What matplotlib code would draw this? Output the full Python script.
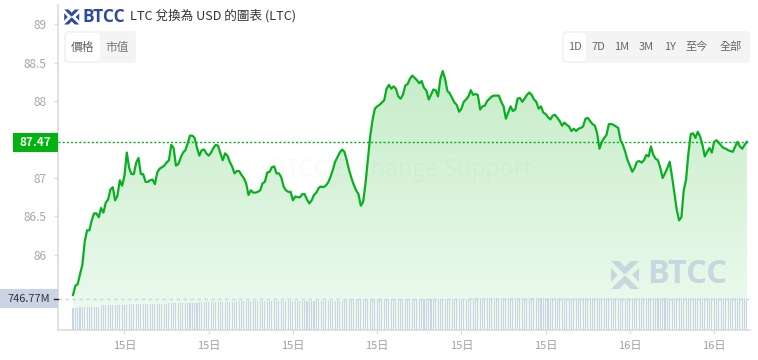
import matplotlib
matplotlib.use('Agg')
import matplotlib.pyplot as plt
import numpy as np
from matplotlib.patches import FancyBboxPatch, Polygon, Rectangle

plt.rcParams['font.family'] = ['Noto Sans CJK TC', 'DejaVu Sans']

W, H = 758, 360

# LTC price, one value every 5 minutes
price = [85.48, 85.60, 85.62, 85.75, 85.87, 86.17, 86.32, 86.32, 86.45, 86.54,
         86.54, 86.49, 86.61, 86.55, 86.68, 86.72, 86.85, 86.88, 86.71, 86.77,
         86.97, 86.90, 87.03, 87.33, 87.13, 87.05, 87.05, 87.20, 87.26, 87.05,
         87.05, 86.95, 86.95, 86.97, 86.98, 86.92, 87.07, 87.12, 87.14, 87.16,
         87.20, 87.23, 87.43, 87.39, 87.16, 87.18, 87.26, 87.33, 87.36, 87.45,
         87.55, 87.55, 87.52, 87.39, 87.29, 87.36, 87.37, 87.32, 87.29, 87.33,
         87.39, 87.43, 87.42, 87.32, 87.23, 87.32, 87.29, 87.21, 87.15, 87.06,
         87.09, 87.09, 87.04, 87.00, 86.93, 86.78, 86.84, 86.81, 86.81, 86.82,
         86.84, 86.93, 86.95, 87.07, 87.08, 87.14, 87.15, 87.06, 87.06, 87.01,
         86.89, 86.84, 86.82, 86.82, 86.71, 86.76, 86.75, 86.75, 86.79, 86.79,
         86.72, 86.67, 86.71, 86.78, 86.81, 86.87, 86.89, 86.88, 86.90, 86.94,
         87.01, 87.10, 87.21, 87.27, 87.33, 87.37, 87.34, 87.23, 87.10, 87.00,
         86.91, 86.84, 86.79, 86.64, 86.69, 86.93, 87.24, 87.54, 87.75, 87.90,
         87.93, 87.95, 87.98, 88.01, 88.16, 88.21, 88.16, 88.19, 88.16, 88.06,
         88.03, 88.08, 88.20, 88.22, 88.29, 88.33, 88.30, 88.27, 88.23, 88.26,
         88.17, 88.14, 88.02, 88.08, 88.15, 88.14, 88.06, 88.29, 88.39, 88.29,
         88.13, 88.10, 88.04, 87.98, 87.95, 87.86, 87.90, 87.99, 88.02, 88.06,
         88.14, 88.08, 88.09, 88.08, 87.89, 87.93, 87.94, 88.00, 88.03, 88.06,
         88.07, 88.07, 88.07, 87.99, 87.93, 87.77, 87.85, 87.93, 87.87, 87.89,
         88.03, 88.04, 87.99, 88.03, 88.08, 88.11, 88.08, 88.02, 87.99, 87.90,
         87.93, 87.85, 87.83, 87.79, 87.76, 87.81, 87.82, 87.78, 87.74, 87.68,
         87.72, 87.69, 87.67, 87.61, 87.64, 87.61, 87.64, 87.65, 87.67, 87.77,
         87.78, 87.74, 87.70, 87.68, 87.58, 87.38, 87.47, 87.52, 87.56, 87.70,
         87.70, 87.69, 87.67, 87.65, 87.49, 87.43, 87.34, 87.23, 87.16, 87.08,
         87.13, 87.21, 87.22, 87.20, 87.23, 87.30, 87.28, 87.41, 87.30, 87.25,
         87.23, 87.13, 87.00, 87.06, 87.13, 87.21, 87.02, 86.81, 86.59, 86.45,
         86.49, 86.84, 86.98, 87.32, 87.57, 87.58, 87.52, 87.60, 87.54, 87.43,
         87.28, 87.34, 87.39, 87.33, 87.47, 87.49, 87.46, 87.42, 87.39, 87.38,
         87.36, 87.35, 87.34, 87.41, 87.47, 87.41, 87.38, 87.43, 87.47]
# rolling volume in millions, same 5 minute steps
volume = ([535] * 3 + [559] * 9 + [584] * 5 + [608] * 7 + [625] * 17 + [652] * 13
          + [676] * 16 + [705] * 46 + [747] * 54 + [771] * 118 + [746.77])

y_ticks = [86, 86.5, 87, 88, 88.5, 89]
y_tick_labels = ['86', '86.5', '87', '88', '88.5', '89']
x_tick_minutes = [110, 290, 470, 650, 830, 1010, 1190, 1370]
x_tick_labels = ['15日', '15日', '15日', '15日', '15日', '15日', '16日', '16日']
last_price = 87.47
last_volume = 746.77
range_labels = ['1D', '7D', '1M', '3M', '1Y', '至今', '全部']

minutes = np.arange(len(price)) * 5
GREEN = '#07b01f'
AXIS = '#dcdcdc'
VOL = '#cbd4e5'

fig = plt.figure(figsize=(W / 100, H / 100), dpi=100)
rect = [57.5 / W, (H - 329.5) / H, (750 - 57.5) / W, (329.5 - 5) / H]
xlim = (-33.1, 1446.6)

# price axes
ax = fig.add_axes(rect, zorder=1)
poly = ax.fill_between(minutes, price, 85.03, color='none')
grad = np.ones((100, 1, 3))
top_col = np.array([198, 236, 200]) / 255
bot_col = np.array([238, 251, 240]) / 255
for c in range(3):
    grad[:, 0, c] = np.linspace(top_col[c], bot_col[c], 100)
im = ax.imshow(grad, extent=(minutes[0], minutes[-1], 85.03, 88.45), aspect='auto',
               interpolation='bilinear', zorder=1)
im.set_clip_path(poly.get_paths()[0], transform=ax.transData)
ax.text(0.497, 0.49, 'BTCC Exchange Support', transform=ax.transAxes, ha='center', va='center',
        fontsize=16.8, color='black', alpha=0.02, family='Open Sans', zorder=2)
ax.plot(minutes, price, color=GREEN, lw=1.6, solid_joinstyle='round', zorder=4)
ax.axhline(last_price, color=GREEN, lw=1, dashes=(1.5, 1.5), zorder=3)
ax.set_xlim(xlim)
ax.set_ylim(85.032, 89.247)
ax.set_yticks(y_ticks, y_tick_labels)
ax.set_xticks(x_tick_minutes, x_tick_labels)
ax.tick_params(axis='y', length=3, width=1, color=AXIS, labelcolor='#a8a8a8', labelsize=8.5, pad=5)
ax.tick_params(axis='x', length=3, width=1, color=AXIS, labelcolor='#a0a0a0', labelsize=8, pad=5)
for s in ['top', 'right']:
    ax.spines[s].set_visible(False)
for s in ['left', 'bottom']:
    ax.spines[s].set_color(AXIS)
    ax.spines[s].set_linewidth(1.2)

# volume axes on top, same box
axv = fig.add_axes(rect, zorder=2)
axv.patch.set_visible(False)
axv.bar(minutes, volume, width=2.2, color=VOL, linewidth=0)
axv.axhline(last_volume, color=VOL, lw=1, dashes=(2.5, 2.5))
axv.set_xlim(xlim)
axv.set_ylim(0, 7892)
axv.axis('off')

# overlay in pixel coordinates for the widgets
axc = fig.add_axes([0, 0, 1, 1], zorder=3)
axc.set_xlim(0, W)
axc.set_ylim(H, 0)
axc.axis('off')


def box(x0, y0, x1, y1, color, r=4):
    axc.add_patch(FancyBboxPatch((x0 + r, y0 + r), x1 - x0 - 2 * r, y1 - y0 - 2 * r,
                                 boxstyle='round,pad=%d,rounding_size=%d' % (r, r),
                                 fc=color, ec='none'))


def logo(cx, cy, s, color):
    shapes = [
        [(-1, -1), (-.42, -1), (0, -.58), (.42, -1), (1, -1), (.06, -.08), (-.06, -.08)],
        [(-1, 1), (-.42, 1), (0, .58), (.42, 1), (1, 1), (.06, .08), (-.06, .08)],
        [(-1, -.5), (-.52, 0), (-1, .5)],
        [(1, -.5), (.52, 0), (1, .5)],
    ]
    for sh in shapes:
        axc.add_patch(Polygon([(cx + a * s, cy + b * s) for a, b in sh], fc=color, ec='none'))


logo(71.7, 17, 7.5, '#2d4a9e')
axc.text(82, 16.5, 'BTCC', family='Open Sans', weight='bold', fontsize=12.5, color='#2d4a9e', va='center')
axc.text(130, 16, 'LTC 兌換為 USD 的圖表 (LTC)', fontsize=9.1, weight='medium', color='#333333', va='center')

logo(625, 275, 14, '#c8d6de')
axc.text(647, 274.5, 'BTCC', family='Open Sans', weight='bold', fontsize=23.5, color='#c8d6de', va='center')

box(64, 31, 136, 63, '#f4f4f4')
box(66, 33, 100, 61, 'white')
axc.text(83, 47, '價格', fontsize=8.5, color='#666666', ha='center', va='center')
axc.text(117, 47, '市值', fontsize=8.5, color='#777777', ha='center', va='center')

box(562, 31, 750, 63, '#f4f4f4')
box(564, 33, 586, 61, 'white')
for lab, xp in zip(range_labels, [575, 598, 622, 646, 670, 697, 731]):
    axc.text(xp, 47, lab, fontsize=8, color='#666666', ha='center', va='center')

axc.add_patch(Rectangle((13, 133), 45, 19, fc='#00b40f', ec='none'))
axc.text(35.5, 142.5, '%.2f' % last_price, fontsize=8.5, weight='bold', color='white', ha='center', va='center')
axc.add_patch(Rectangle((0, 289), 58, 19, fc=VOL, ec='none'))
axc.text(28.5, 298.5, '%.2fM' % last_volume, fontsize=7.9, color='#333333', ha='center', va='center')
axc.plot([54, 58], [298.5, 298.5], color='#222222', lw=1)

fig.savefig('out.png', dpi=100)
plt.close()
